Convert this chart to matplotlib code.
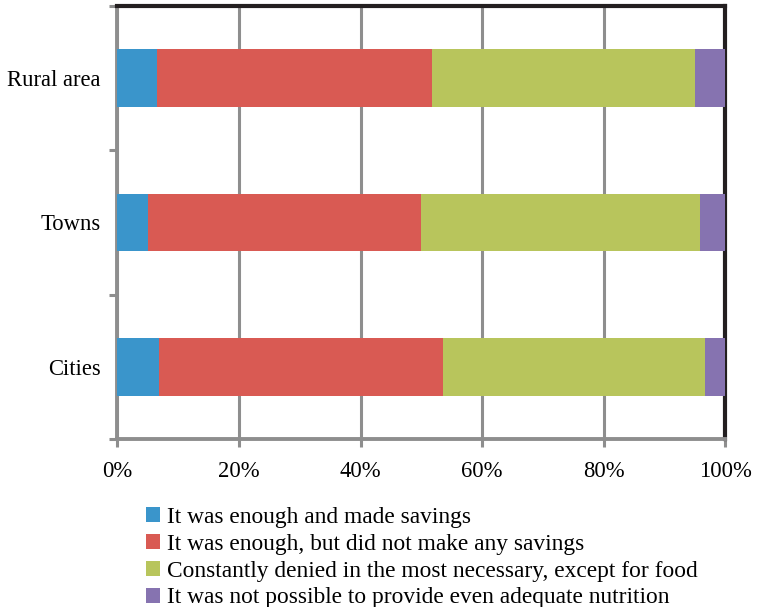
import numpy as np
import matplotlib.pyplot as plt
from matplotlib.ticker import FuncFormatter

plt.rcParams['font.family'] = ['Liberation Serif', 'DejaVu Serif']

# settlement types, bottom to top
categories = ['Cities', 'Towns', 'Rural area']

# shares of households (%), one list per answer
made_savings = [6.8, 5.0, 6.5]
no_savings = [46.8, 45.0, 45.3]
denied_except_food = [43.1, 45.9, 43.2]
no_nutrition = [3.3, 4.1, 5.0]

labels = ['It was enough and made savings',
          'It was enough, but did not make any savings',
          'Constantly denied in the most necessary, except for food',
          'It was not possible to provide even adequate nutrition']
colors = ['#3A95CB', '#D95A53', '#B8C55C', '#8673B0']

series = [made_savings, no_savings, denied_except_food, no_nutrition]

fig = plt.figure(figsize=(7.6, 6.07), dpi=100)
ax = fig.add_axes([0.1546, 0.2768, 0.7994, 0.7133])

y = np.arange(len(categories))
left = np.zeros(len(categories))
for vals, lab, col in zip(series, labels, colors):
    vals = np.array(vals)
    ax.barh(y, vals, left=left, height=0.40, color=col, label=lab, zorder=3)
    left += vals

ax.set_xlim(0, 100)
ax.set_ylim(-0.5, 2.5)
ax.set_xticks(np.arange(0, 101, 20))
ax.xaxis.set_major_formatter(FuncFormatter(lambda v, p: '{:d}%'.format(int(v))))
ax.set_yticks(y)
ax.set_yticklabels(categories)
ax.set_yticks(np.arange(-0.5, 2.6, 1.0), minor=True)

grey = '#8E8E8E'
ax.grid(True, axis='x', color=grey, lw=2.2, zorder=0)
ax.set_axisbelow(True)

ax.tick_params(axis='y', which='major', length=0, pad=12, labelsize=16.3)
ax.tick_params(axis='y', which='minor', length=6, width=2.2, color=grey)
ax.tick_params(axis='x', which='major', length=6, width=2.2, color=grey,
               labelsize=16.3, pad=10)

for side in ['left', 'bottom']:
    ax.spines[side].set_color(grey)
    ax.spines[side].set_linewidth(2.8)
for side in ['top', 'right']:
    ax.spines[side].set_color('#231F20')
    ax.spines[side].set_linewidth(3.0)

fig.legend(loc='upper left', bbox_to_anchor=(0.192, 0.165), frameon=False,
           fontsize=16.8, handlelength=0.62, handleheight=0.62,
           handletextpad=0.3, labelspacing=0.25, borderaxespad=0,
           borderpad=0)

fig.savefig('out.png', dpi=100)
